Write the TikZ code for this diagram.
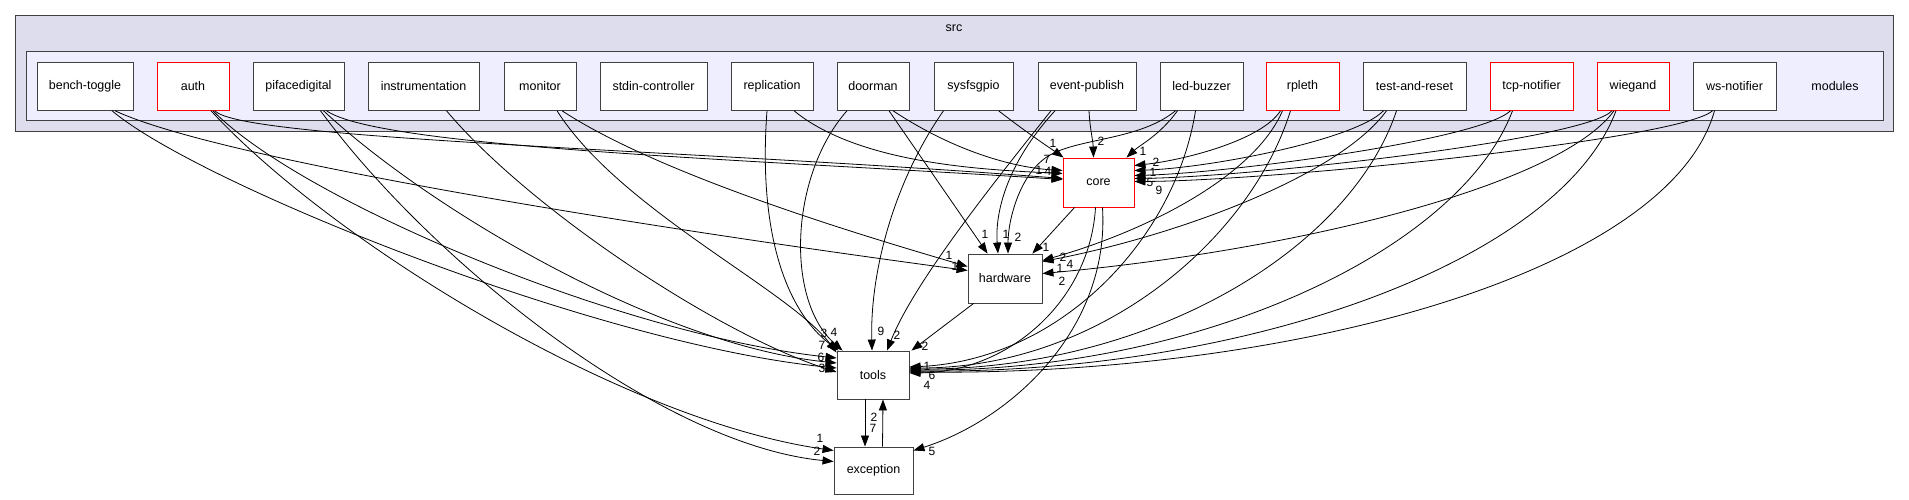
\documentclass[tikz,border=0pt]{standalone}
\usepackage{fontspec}
\setmainfont{Liberation Sans}
\usetikzlibrary{arrows.meta,calc}
\definecolor{srcfill}{HTML}{DDDDEE}
\definecolor{modfill}{HTML}{EEEEFF}
\definecolor{frame}{HTML}{404040}
\newcommand\nodefnt{\fontsize{12.5}{14}\selectfont}
\newcommand\labfnt{\fontsize{12}{13}\selectfont}
\begin{document}
\begin{tikzpicture}[x=1pt,y=-1pt,
  dirbox/.style={draw=frame, fill=white, line width=0.9pt, minimum height=48pt, inner sep=0pt, font=\nodefnt},
  redbox/.style={dirbox, draw=red},
  edge/.style={draw=black, line width=0.8pt, -{Triangle[length=11pt,width=8pt]}},
  lab/.style={inner sep=0pt, font=\labfnt},
  cluster/.style={draw=frame, line width=1pt}]
\useasboundingbox (0,0) rectangle (1909,500);
% clusters
\path[cluster, fill=srcfill] (15.7,15.7) rectangle (1893,131.7);
\node[inner sep=0pt, font=\nodefnt] (srclabel) at (954,28) {src};
\path[cluster, fill=modfill] (26.3,51.7) rectangle (1883,121);
\node[inner sep=0pt, font=\nodefnt] (modlabel) at (1835,86) {modules};
% module nodes
\node[dirbox, minimum width=96pt] (bench) at (85,86.3) {bench-toggle};
\node[redbox, minimum width=72pt] (auth) at (193,86.3) {auth};
\node[dirbox, minimum width=91pt] (piface) at (298.5,86.3) {pifacedigital};
\node[dirbox, minimum width=111pt] (instr) at (423.5,86.3) {instrumentation};
\node[dirbox, minimum width=72pt] (monitor) at (540,86.3) {monitor};
\node[dirbox, minimum width=107pt] (stdin) at (653.5,86.3) {stdin-controller};
\node[dirbox, minimum width=82pt] (repl) at (772,86.3) {replication};
\node[dirbox, minimum width=72pt] (doorman) at (873,86.3) {doorman};
\node[dirbox, minimum width=79pt] (sysfs) at (973.5,86.3) {sysfsgpio};
\node[dirbox, minimum width=98pt] (event) at (1087,86.3) {event-publish};
\node[dirbox, minimum width=83pt] (led) at (1201.5,86.3) {led-buzzer};
\node[redbox, minimum width=73pt] (rpleth) at (1302.5,86.3) {rpleth};
\node[dirbox, minimum width=103pt] (test) at (1414.5,86.3) {test-and-reset};
\node[redbox, minimum width=83pt] (tcp) at (1531.5,86.3) {tcp-notifier};
\node[redbox, minimum width=72pt] (wiegand) at (1633,86.3) {wiegand};
\node[dirbox, minimum width=83pt] (ws) at (1734.5,86.3) {ws-notifier};
% lower nodes
\node[redbox, minimum width=71pt, minimum height=49pt] (core) at (1098.5,182.5) {core};
\node[dirbox, minimum width=74pt, minimum height=49pt] (hardware) at (1005,278.5) {hardware};
\node[dirbox, minimum width=72pt] (tools) at (873,375) {tools};
\node[dirbox, minimum width=79pt, minimum height=47pt] (exception) at (873.5,470.5) {exception};

% ---- left modules
\draw[edge] ($(bench.south)+(27,0)$) .. controls (200,185) and (600,345) .. ($(tools.west)+(0,-7)$);
\draw[edge] ($(bench.south)+(30,0)$) .. controls (220,160) and (650,228) .. ($(hardware.west)+(0,-8)$);
\draw[edge] ($(auth.south)+(22,0)$) .. controls (240,140) and (700,150) .. ($(core.west)+(0,-4)$);
\draw[edge] ($(auth.south)+(20,0)$) .. controls (300,200) and (620,335) .. ($(tools.west)+(0,-17)$);
\draw[edge] ($(auth.south)+(18,0)$) .. controls (330,240) and (620,420) .. ($(exception.west)+(0,-20)$);
\draw[edge] ($(piface.south)+(22,0)$) .. controls (430,260) and (660,445) .. ($(exception.west)+(0,-9)$);
\draw[edge] ($(piface.south)+(25,0)$) .. controls (430,210) and (660,345) .. ($(tools.west)+(0,-12)$);
\draw[edge] ($(piface.south)+(28,0)$) .. controls (380,148) and (760,160) .. ($(core.west)+(0,-3)$);
\draw[edge] ($(instr.south)+(23,0)$) .. controls (530,210) and (720,335) .. ($(tools.west)+(0,-3)$);
\draw[edge] ($(monitor.south)+(17,0)$) .. controls (620,210) and (790,290) .. ($(tools.north west)+(0,2)$);
\draw[edge] ($(monitor.south)+(22,0)$) .. controls (660,175) and (860,235) .. ($(hardware.west)+(0,-12)$);
\draw[edge] ($(repl.south)+(-5,0)$) .. controls (758,230) and (785,310) .. ($(tools.north west)+(2,0)$);
\draw[edge] ($(doorman.south)+(-26,0)$) .. controls (790,175) and (785,300) .. ($(tools.north west)+(6,0)$);
\draw[edge] ($(repl.south)+(22,0)$) .. controls (860,165) and (990,170) .. ($(core.west)+(0,-9)$);
\draw[edge] ($(doorman.south)+(20,0)$) .. controls (960,155) and (1020,168) .. ($(core.west)+(0,-12)$);
\draw[edge] ($(doorman.south)+(16,0)$) -- ($(hardware.north west)+(20,0)$);
\draw[edge] ($(sysfs.south)+(-30,0)$) .. controls (895,180) and (870,270) .. ($(tools.north)+(-1,0)$);
\draw[edge] ($(sysfs.south)+(25,0)$) .. controls (1030,135) and (1050,148) .. ($(core.north west)+(1,0)$);
\draw[edge] ($(event.south)+(2,0)$) .. controls (1090,130) and (1093,140) .. ($(core.north)+(-5,0)$);
\draw[edge] ($(event.south)+(-32,0)$) .. controls (1005,165) and (995,215) .. ($(hardware.north)+(-7,0)$);
\draw[edge] ($(event.south)+(-36,0)$) .. controls (1000,175) and (915,280) .. ($(tools.north)+(14,0)$);
\draw[edge] ($(led.south)+(-24,0)$) .. controls (1160,135) and (1140,145) .. ($(core.north east)+(-8,0)$);
\draw[edge] ($(led.south)+(-26,0)$) .. controls (1140,140) and (1080,138) .. (1050,155) .. controls (1020,172) and (1008,220) .. ($(hardware.north)+(3,0)$);
\draw[edge] ($(led.south)+(-6,0)$) .. controls (1175,240) and (1060,360) .. ($(tools.east)+(0,-8)$);
% ---- core, hardware, tools, exception
\draw[edge] ($(core.south west)+(12,0)$) -- ($(hardware.north east)+(-10,0)$);
\draw[edge] ($(core.south)+(-3,0)$) .. controls (1090,300) and (1010,372) .. ($(tools.east)+(0,-2)$);
\draw[edge] ($(core.south)+(4,0)$) .. controls (1110,330) and (1010,420) .. ($(exception.east)+(0,-20)$);
\draw[edge] ($(hardware.south west)+(6,0)$) -- ($(tools.north east)+(2,0)$);
\draw[edge] ($(tools.south)+(-8,0)$) -- ($(exception.north)+(-8.5,0)$);
\draw[edge] ($(exception.north)+(9,0)$) -- ($(tools.south)+(10,0)$);
% ---- right modules to core
\draw[edge] ($(rpleth.south)+(-22,0)$) .. controls (1262,140) and (1185,160) .. ($(core.east)+(0,-17)$);
\draw[edge] ($(test.south)+(-31,0)$) .. controls (1355,140) and (1210,168) .. ($(core.east)+(0,-12)$);
\draw[edge] ($(tcp.south)+(-21,0)$) .. controls (1480,140) and (1230,173) .. ($(core.east)+(0,-7)$);
\draw[edge] ($(wiegand.south)+(-21,0)$) .. controls (1585,140) and (1250,177) .. ($(core.east)+(0,-4)$);
\draw[edge] ($(ws.south)+(-22,0)$) .. controls (1680,140) and (1270,181) .. ($(core.east)+(0,-1)$);
% ---- right modules to hardware
\draw[edge] ($(rpleth.south)+(-20,0)$) .. controls (1255,175) and (1150,230) .. ($(hardware.east)+(0,-18)$);
\draw[edge] ($(test.south)+(-28,0)$) .. controls (1340,175) and (1180,235) .. ($(hardware.east)+(0,-17)$);
\draw[edge] ($(wiegand.south)+(-19,0)$) .. controls (1560,185) and (1300,250) .. ($(hardware.east)+(0,-5)$);
% ---- right modules to tools
\draw[edge] ($(rpleth.south)+(-12,0)$) .. controls (1250,240) and (1100,368) .. ($(tools.east)+(0,-7)$);
\draw[edge] ($(test.south)+(-18,0)$) .. controls (1350,250) and (1150,370) .. ($(tools.east)+(0,-6)$);
\draw[edge] ($(tcp.south)+(-19,0)$) .. controls (1460,250) and (1200,372) .. ($(tools.east)+(0,-5)$);
\draw[edge] ($(wiegand.south)+(-17,0)$) .. controls (1560,260) and (1250,374) .. ($(tools.east)+(0,-4)$);
\draw[edge] ($(ws.south)+(-20,0)$) .. controls (1670,270) and (1300,376) .. ($(tools.east)+(0,-3)$);

% ---- labels
\node[lab] (la1) at (1053,143) {1};
\node[lab] (la2) at (1101,141) {2};
\node[lab] (la3) at (1143,151) {1};
\node[lab] (la4) at (1156,162) {2};
\node[lab] (la5) at (1153,172) {1};
\node[lab] (la6) at (1150,182) {5};
\node[lab] (la7) at (1159,190) {9};
\node[lab] (la8) at (1047,159) {7};
\node[lab] (la9) at (1039,170) {1};
\node[lab] (la10) at (1048,171) {4};
\node[lab] (lb1) at (949,255) {1};
\node[lab] (lb2) at (955,266) {1};
\node[lab] (lb3) at (985,234) {1};
\node[lab] (lb4) at (1006,234) {1};
\node[lab] (lb5) at (1018,237) {2};
\node[lab] (lb6) at (1046,247) {1};
\node[lab] (lb7) at (1063,257) {2};
\node[lab] (lb8) at (1070,264) {4};
\node[lab] (lb9) at (1060,268) {1};
\node[lab] (lb10) at (1062,281) {2};
\node[lab] (lc1) at (824,333) {3};
\node[lab] (lc2) at (834,332) {4};
\node[lab] (lc3) at (881,331) {9};
\node[lab] (lc4) at (897,335) {2};
\node[lab] (lc5) at (925,346) {2};
\node[lab] (lc6) at (822,345) {7};
\node[lab] (lc7) at (821,357) {6};
\node[lab] (lc8) at (822,368) {3};
\node[lab] (lc9) at (927,366) {1};
\node[lab] (lc10) at (932,375) {6};
\node[lab] (lc11) at (927,385) {4};
\node[lab] (ld1) at (820,438) {1};
\node[lab] (ld2) at (817,451) {2};
\node[lab] (ld3) at (874,417) {2};
\node[lab] (ld4) at (873,428) {7};
\node[lab] (ld5) at (932,451) {5};
\end{tikzpicture}
\end{document}
